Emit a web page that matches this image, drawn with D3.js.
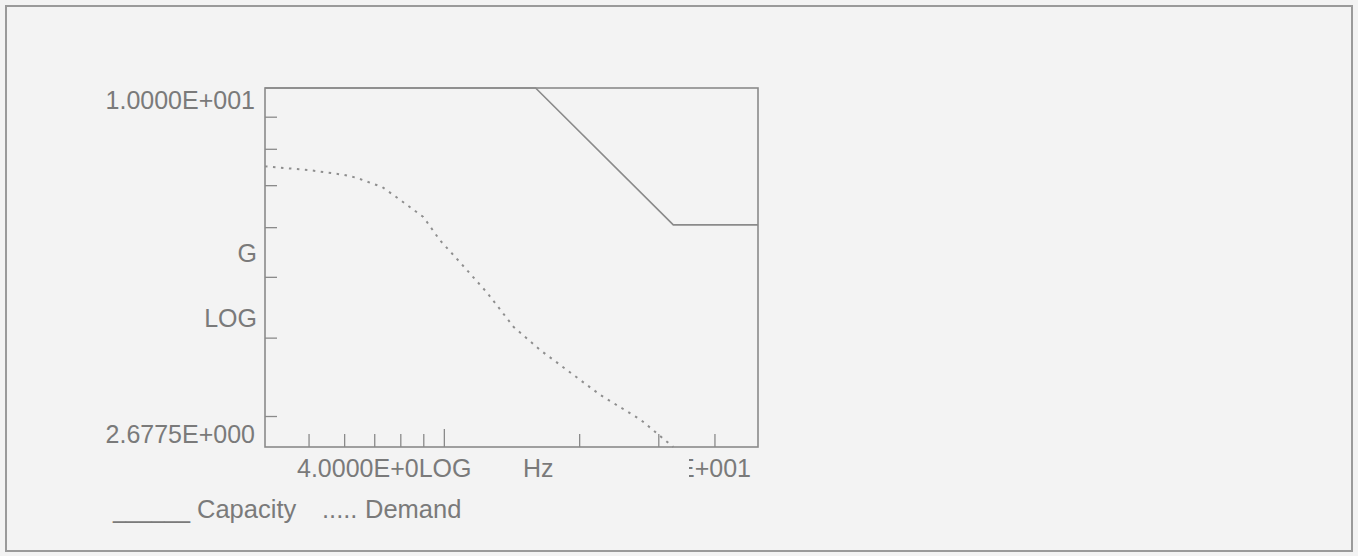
<!DOCTYPE html>
<html>
<head>
<meta charset="utf-8">
<script src="https://cdn.jsdelivr.net/npm/d3@7"></script>
<style>
  body { margin: 0; background: #f3f3f3; }
  svg text { font-family: "Liberation Sans", Arial, sans-serif; fill: #7a7a7a; }
</style>
</head>
<body>
<svg id="chart" width="1358" height="556"></svg>
<script>
// capacity and demand spectra (Hz, g)
let capacityFreq = [4, 16, 32.4, 50];
let capacityG = [10, 10, 6.05, 6.05];
let demandFreq = [4, 5, 6, 6.4, 7.3, 8, 9, 9.8, 10.9, 12.5, 14.3, 16.4, 22.3, 27.4, 32.4];
let demandG = [7.5, 7.4, 7.27, 7.19, 6.95, 6.63, 6.23, 5.72, 5.26, 4.71, 4.16, 3.82, 3.24, 2.96, 2.6775];

let yTicks = [3, 4, 5, 6, 7, 8, 9];
let xTicks = [5, 6, 7, 8, 9, 10, 20, 30, 40];

let svg = d3.select("#chart");
let plot = { left: 265, top: 88, right: 758, bottom: 447 };

let x = d3.scaleLog().domain([4, 50]).range([plot.left, plot.right]);
let y = d3.scaleLog().domain([2.6775, 10]).range([plot.bottom, plot.top]);

// outer box
svg.append("rect")
  .attr("x", 6).attr("y", 6)
  .attr("width", 1346).attr("height", 545)
  .attr("fill", "#f3f3f3")
  .attr("stroke", "#9a9a9a")
  .attr("stroke-width", 2);

// inward ticks
let yAxis = svg.append("g")
  .attr("transform", "translate(" + plot.left + ",0)")
  .call(d3.axisLeft(y).tickValues(yTicks).tickSize(-12).tickFormat(""));
let xAxis = svg.append("g")
  .attr("transform", "translate(0," + plot.bottom + ")")
  .call(d3.axisBottom(x).tickValues(xTicks).tickSize(-13).tickFormat(""));
xAxis.selectAll(".tick line").filter(function(d) { return d == 10; }).attr("y2", -18);
svg.selectAll(".domain").remove();
svg.selectAll(".tick line").attr("stroke", "#8a8a8a").attr("stroke-width", 1.3);

// frame
svg.append("rect")
  .attr("x", plot.left).attr("y", plot.top)
  .attr("width", plot.right - plot.left).attr("height", plot.bottom - plot.top)
  .attr("fill", "none")
  .attr("stroke", "#8a8a8a")
  .attr("stroke-width", 1.6);

let line = d3.line()
  .x(function(d) { return x(d[0]); })
  .y(function(d) { return y(d[1]); });

svg.append("path")
  .datum(d3.zip(capacityFreq, capacityG))
  .attr("d", line)
  .attr("fill", "none")
  .attr("stroke", "#8a8a8a")
  .attr("stroke-width", 1.6);

svg.append("path")
  .datum(d3.zip(demandFreq, demandG))
  .attr("d", line)
  .attr("fill", "none")
  .attr("stroke", "#8e8e8e")
  .attr("stroke-width", 2)
  .attr("stroke-dasharray", "2.5,5.5");

// axis texts
let labels = svg.append("g").style("font-size", "25px");
labels.append("text").attr("x", 255).attr("y", y(10) + 21).attr("text-anchor", "end").text("1.0000E+001");
labels.append("text").attr("x", 255).attr("y", y(2.6775) - 4).attr("text-anchor", "end").text("2.6775E+000");
labels.append("text").attr("x", 257).attr("y", 262).attr("text-anchor", "end").text("G");
labels.append("text").attr("x", 257).attr("y", 327).attr("text-anchor", "end").text("LOG");
labels.append("text").attr("x", 297).attr("y", 477).text("4.0000E+0LOG");
labels.append("text").attr("x", 523).attr("y", 477).text("Hz");

svg.append("clipPath").attr("id", "cut")
  .append("rect").attr("x", 689).attr("y", 450).attr("width", 80).attr("height", 40);
labels.append("text").attr("x", 751).attr("y", 477).attr("text-anchor", "end")
  .attr("clip-path", "url(#cut)").text("E+001");

// legend
let legend = svg.append("g").style("font-size", "25.5px");
legend.append("text").attr("x", 113).attr("y", 518)
  .attr("textLength", 77).attr("lengthAdjust", "spacingAndGlyphs").text("______");
legend.append("text").attr("x", 197).attr("y", 518).text("Capacity");
legend.append("text").attr("x", 322).attr("y", 518).text(".....");
legend.append("text").attr("x", 365).attr("y", 518).text("Demand");
</script>
</body>
</html>
